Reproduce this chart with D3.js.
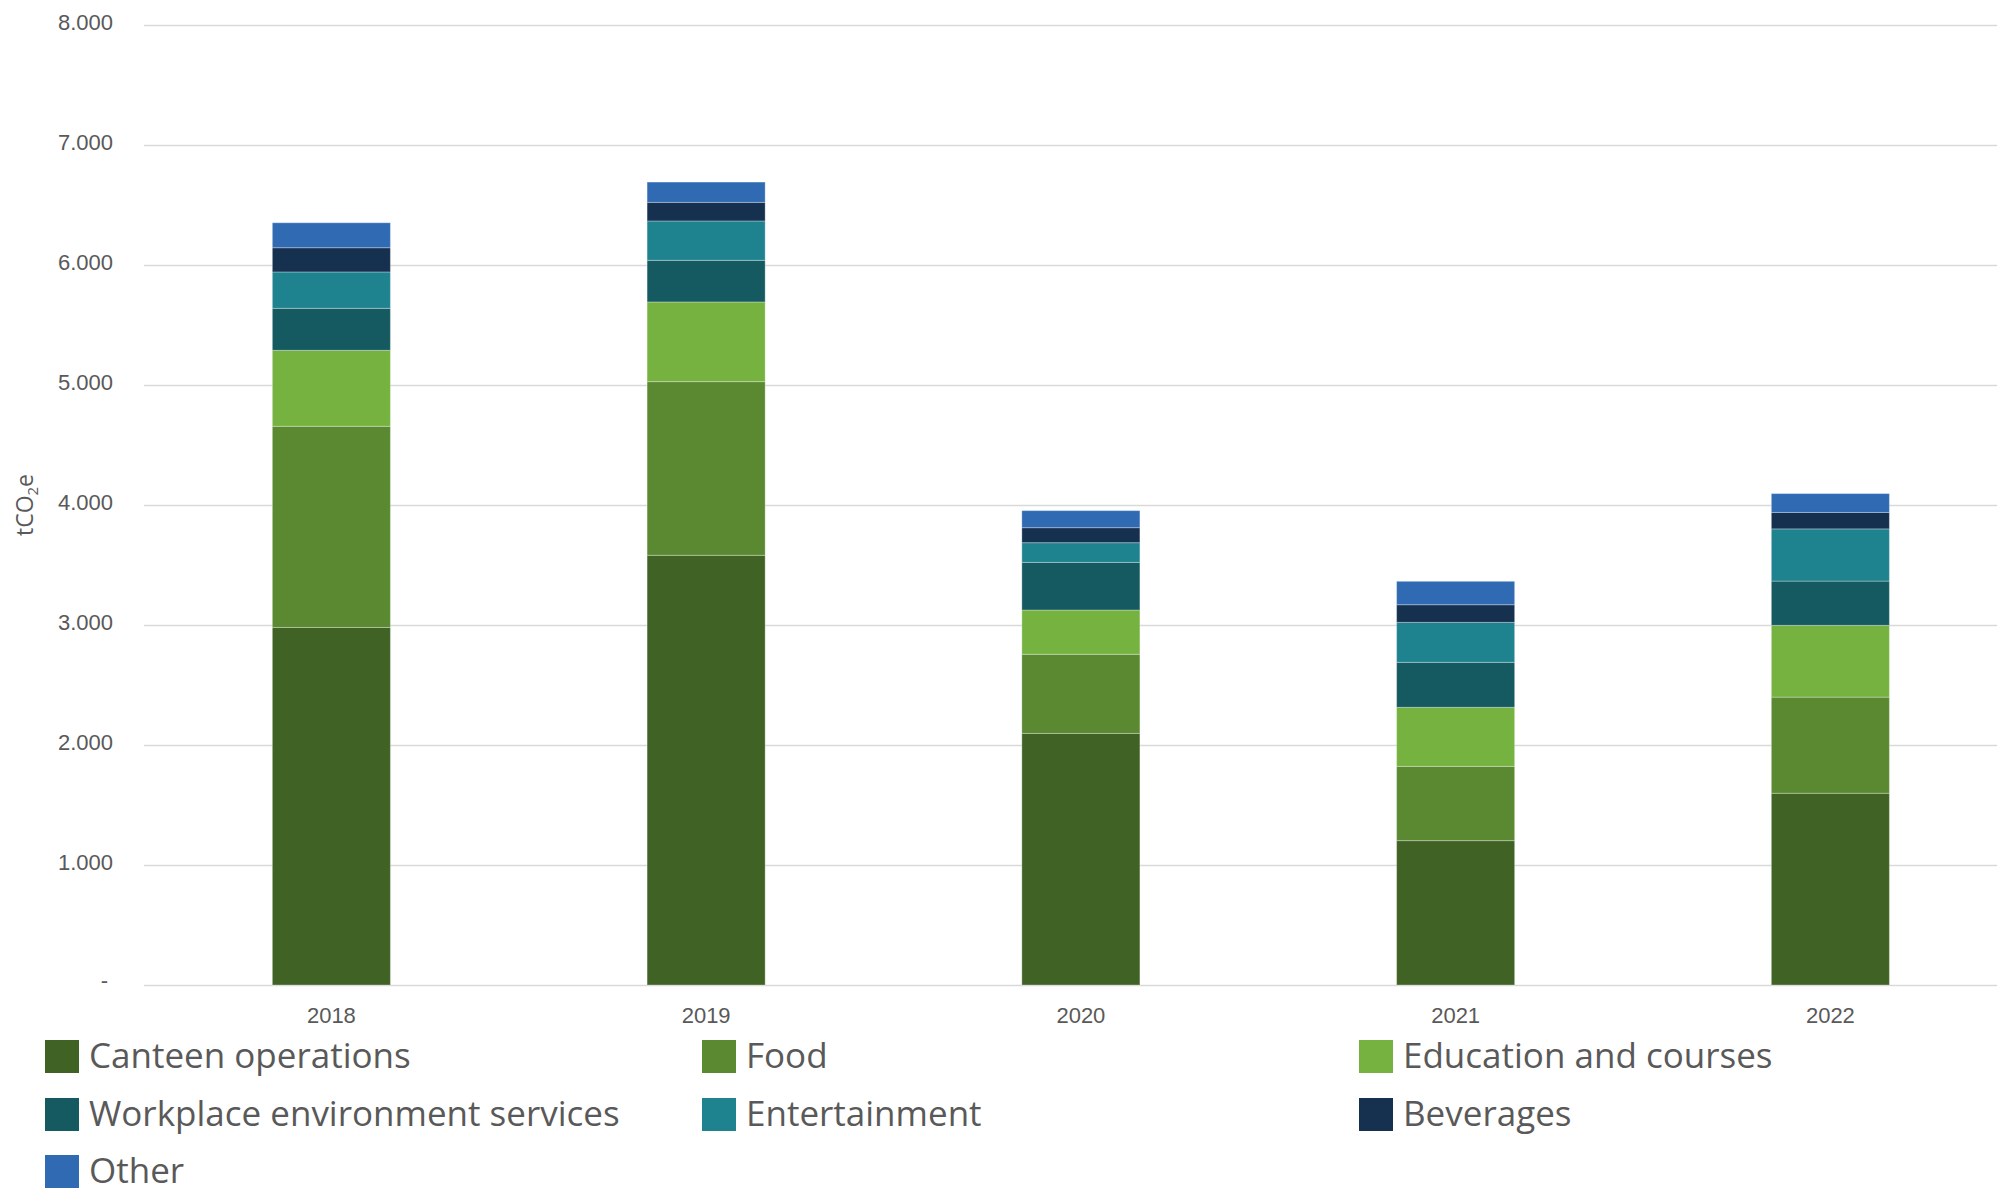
<!DOCTYPE html>
<html>
<head>
<meta charset="utf-8">
<script src="https://cdn.jsdelivr.net/npm/d3@7"></script>
<style>
  html, body { margin: 0; padding: 0; background: #fff; }
  svg { display: block; font-family: "Open Sans", "Noto Sans", sans-serif; }
</style>
</head>
<body>
<svg id="chart" width="1997" height="1192"></svg>
<script>
// Emissions by category per year, tCO2e
const years = ["2018", "2019", "2020", "2021", "2022"];
const canteenOperations = [2980, 3581, 2097, 1203, 1598];
const food = [1676, 1447, 659, 619, 801];
const educationAndCourses = [633, 664, 369, 492, 598];
const workplaceServices = [350, 347, 397, 375, 369];
const entertainment = [303, 328, 164, 333, 435];
const beverages = [202, 155, 125, 147, 137];
const other = [208, 169, 142, 195, 157];

const seriesNames = [
  "Canteen operations", "Food", "Education and courses",
  "Workplace environment services", "Entertainment", "Beverages", "Other"
];
const seriesValues = [
  canteenOperations, food, educationAndCourses,
  workplaceServices, entertainment, beverages, other
];
const seriesColors = [
  "#406224", "#5a8931", "#76b23f", "#165a61", "#1f828f", "#16304f", "#2f6ab3"
];
const yTicks = [0, 1000, 2000, 3000, 4000, 5000, 6000, 7000, 8000];

// Rows for the stack layout
const rows = years.map((y, i) => {
  const r = { year: y };
  seriesNames.forEach((n, s) => { r[n] = seriesValues[s][i]; });
  return r;
});

const svg = d3.select("#chart");
const W = 1997;
const plotLeft = 144, plotRight = 2017.75, plotTop = 25, plotBottom = 985;

const x = d3.scaleBand()
  .domain(years)
  .range([plotLeft, plotRight])
  .paddingInner(0.685)
  .paddingOuter(0.3425);

const y = d3.scaleLinear()
  .domain([0, 8000])
  .range([plotBottom, plotTop]);

const locale = d3.formatLocale({ decimal: ",", thousands: ".", grouping: [3], currency: ["", ""] });
const fmt = locale.format(",.0f");

// Gridlines and y tick labels
const yAxis = d3.axisLeft(y)
  .tickValues(yTicks)
  .tickSize(-(W - plotLeft))
  .tickPadding(31)
  .tickFormat(d => d === 0 ? "-" : fmt(d));

const gy = svg.append("g")
  .attr("transform", `translate(${plotLeft},0)`)
  .call(yAxis);
gy.select(".domain").remove();
gy.selectAll(".tick line")
  .attr("stroke", "#d9d9d9")
  .attr("stroke-width", 1.6);
gy.selectAll(".tick text")
  .attr("fill", "#595959")
  .attr("font-size", 22)
  .attr("dx", d => d === 0 ? -5 : 0)
  .attr("dy", d => d === 0 ? "0.1em" : "0.22em");

// Stacked bars
const stack = d3.stack().keys(seriesNames);
const layers = stack(rows);

svg.append("g")
  .selectAll("g")
  .data(layers)
  .join("g")
  .attr("fill", (d, i) => seriesColors[i])
  .selectAll("rect")
  .data(d => d)
  .join("rect")
  .attr("x", d => x(d.data.year))
  .attr("width", x.bandwidth())
  .attr("y", d => y(d[1]))
  .attr("height", d => y(d[0]) - y(d[1]))
  .attr("stroke", "rgba(255,255,255,0.3)")
  .attr("stroke-width", 1);

// Category axis
const xAxis = d3.axisBottom(x).tickSize(0).tickPadding(22);
const gx = svg.append("g")
  .attr("transform", `translate(0,${plotBottom})`)
  .call(xAxis);
gx.select(".domain").remove();
gx.selectAll(".tick text")
  .attr("fill", "#595959")
  .attr("font-size", 22);

// Axis title with subscript
const title = svg.append("text")
  .attr("transform", "translate(33,505) rotate(-90)")
  .attr("text-anchor", "middle")
  .attr("fill", "#595959")
  .attr("font-size", 23);
title.append("tspan").text("tCO");
title.append("tspan").attr("font-size", 15).attr("dy", 5).text("2");
title.append("tspan").attr("dy", -5).text("e");

// Legend, three columns
const colX = [45, 702, 1359];
const rowY = [1040, 1098, 1155];
const legend = svg.append("g")
  .selectAll("g")
  .data(seriesNames)
  .join("g")
  .attr("transform", (d, i) => `translate(${colX[i % 3]},${rowY[Math.floor(i / 3)]})`);
legend.append("rect")
  .attr("width", 34)
  .attr("height", 33)
  .attr("fill", (d, i) => seriesColors[i]);
legend.append("text")
  .attr("x", 44)
  .attr("y", 28)
  .attr("fill", "#595959")
  .attr("font-size", 35)
  .text(d => d);
</script>
</body>
</html>
